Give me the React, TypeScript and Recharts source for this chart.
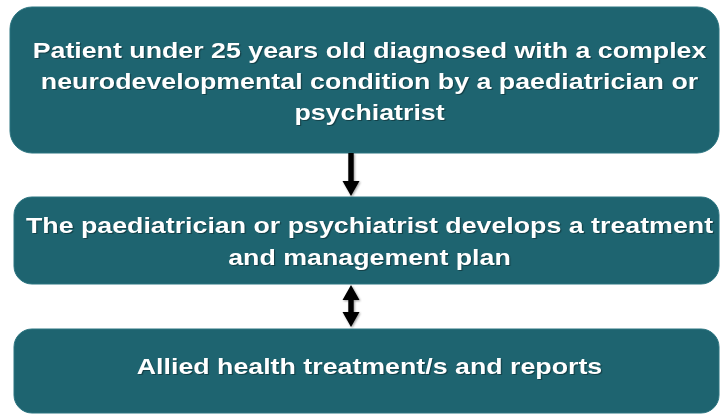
import React from "react";
import { ComposedChart, XAxis, YAxis, ReferenceArea } from "recharts";

// Flowchart steps (text content)
const stepLines: string[][] = [
  [
    "Patient under 25 years old diagnosed with a complex",
    "neurodevelopmental condition by a paediatrician or",
    "psychiatrist",
  ],
  [
    "The paediatrician or psychiatrist develops a treatment",
    "and management plan",
  ],
  ["Allied health treatment/s and reports"],
];

// Arrow kinds between steps
const connectorKinds: string[] = ["single", "double"];

// Layout (chart coordinate units)
const boxLayout = [
  { x1: 10, x2: 719, y1: 7, y2: 153, r: 22, lineCenters: [50, 81, 112] },
  { x1: 14, x2: 719, y1: 197, y2: 284, r: 18, lineCenters: [225, 257] },
  { x1: 14, x2: 719, y1: 329, y2: 413, r: 18, lineCenters: [366] },
];
const connectorLayout = [
  { x1: 342, x2: 360, y1: 153, y2: 196 },
  { x1: 342, x2: 360, y1: 285, y2: 327 },
];

const TEAL = "#1E6470";
const TEXT_CX = 369.5;
const TEXT_STRETCH = 1.19;

const W = 720;
const H = 414;

function BoxShape(props: any) {
  const { x, y, width, height, r, lines, centers } = props;
  return (
    <g>
      <rect
        x={x}
        y={y}
        width={width}
        height={height}
        rx={r}
        ry={r}
        fill={TEAL}
        stroke="#2A7480"
        strokeWidth={1}
      />
      {lines.map((t: string, i: number) => (
        <text
          key={i}
          x={0}
          y={0}
          transform={`translate(${TEXT_CX},${centers[i]}) scale(${TEXT_STRETCH},1)`}
          textAnchor="middle"
          dominantBaseline="central"
          fill="#FFFFFF"
          fontFamily="'Liberation Sans', Arial, sans-serif"
          fontWeight="bold"
          fontSize={22.5}
          style={{ filter: "drop-shadow(1px 1px 0.6px rgba(0,0,0,0.35))" }}
        >
          {t}
        </text>
      ))}
    </g>
  );
}

function ArrowShape(props: any) {
  const { x, y, width, height, kind } = props;
  const cx = x + width / 2;
  const sw = 2.7;
  const hw = width / 2 - 0.5;
  const hl = 15;
  const top = y;
  const bot = y + height;
  let pts: number[][];
  if (kind === "double") {
    pts = [
      [cx, top],
      [cx + hw, top + hl],
      [cx + sw, top + hl],
      [cx + sw, bot - hl],
      [cx + hw, bot - hl],
      [cx, bot],
      [cx - hw, bot - hl],
      [cx - sw, bot - hl],
      [cx - sw, top + hl],
      [cx - hw, top + hl],
    ];
  } else {
    pts = [
      [cx - sw, top],
      [cx + sw, top],
      [cx + sw, bot - hl],
      [cx + hw, bot - hl],
      [cx, bot],
      [cx - hw, bot - hl],
      [cx - sw, bot - hl],
    ];
  }
  return (
    <polygon
      points={pts.map((p) => p.join(",")).join(" ")}
      fill="#000000"
      style={{ filter: "drop-shadow(1px 1px 1px rgba(0,0,0,0.4))" }}
    />
  );
}

export default function App() {
  return (
    <div style={{ width: W, height: H }}>
      <style>{`body{margin:0;background:#fff;}`}</style>
      <ComposedChart
        width={W}
        height={H}
        data={[{ x: 0, y: 0 }]}
        margin={{ top: 0, right: 0, bottom: 0, left: 0 }}
      >
        <XAxis type="number" dataKey="x" domain={[0, W]} hide />
        <YAxis type="number" dataKey="y" domain={[0, H]} reversed hide />
        {boxLayout.map((b, i) => (
          <ReferenceArea
            key={"b" + i}
            x1={b.x1}
            x2={b.x2}
            y1={b.y1}
            y2={b.y2}
            ifOverflow="visible"
            shape={(p: any) => (
              <BoxShape
                {...p}
                r={b.r}
                lines={stepLines[i]}
                centers={b.lineCenters}
              />
            )}
          />
        ))}
        {connectorLayout.map((c, i) => (
          <ReferenceArea
            key={"a" + i}
            x1={c.x1}
            x2={c.x2}
            y1={c.y1}
            y2={c.y2}
            ifOverflow="visible"
            shape={(p: any) => <ArrowShape {...p} kind={connectorKinds[i]} />}
          />
        ))}
      </ComposedChart>
    </div>
  );
}
